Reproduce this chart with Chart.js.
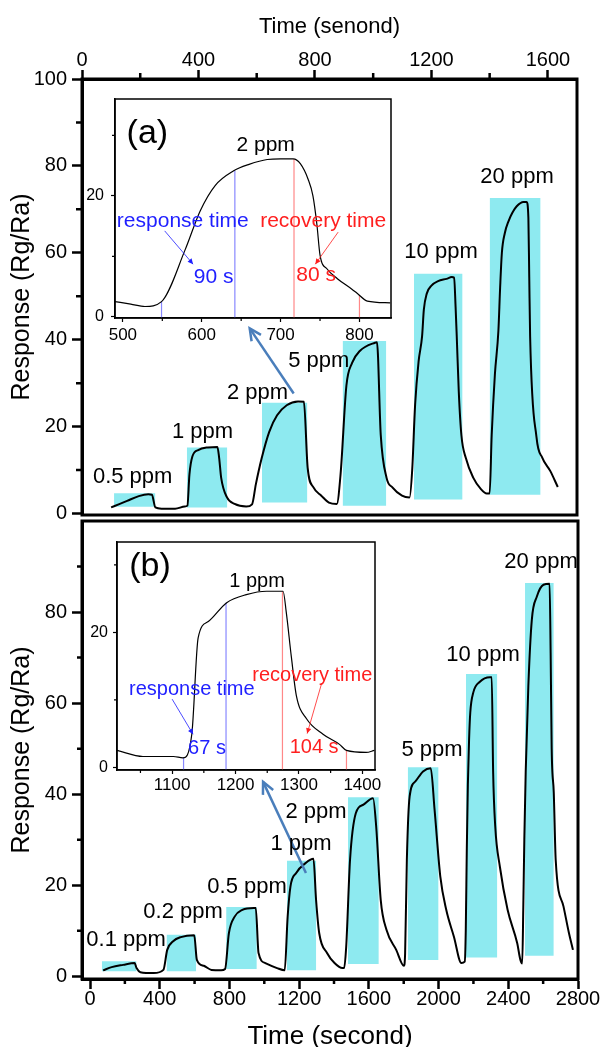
<!DOCTYPE html>
<html>
<head>
<meta charset="utf-8">
<title>Response vs time</title>
<script src="https://cdn.jsdelivr.net/npm/chart.js@4.4.1/dist/chart.umd.min.js"></script>
<style>
  html, body { margin: 0; padding: 0; background: #fff; overflow: hidden; }
  #wrap { position: relative; width: 603px; height: 1047px; }
  canvas { position: absolute; }
  #topChart { left: 0; top: 0; }
  #bottomChart { left: 0; top: 500px; }
  #insetA { left: 75px; top: 84px; }
  #insetB { left: 75px; top: 529px; }
</style>
</head>
<body>
<div id="wrap">
  <canvas id="topChart" width="603" height="530"></canvas>
  <canvas id="bottomChart" width="603" height="547"></canvas>
  <canvas id="insetA" width="330" height="266"></canvas>
  <canvas id="insetB" width="315" height="275"></canvas>
</div>
<script>
// ---- panel (a): response curve
const topTime = [100,130,155,195,228,240,252,273,320,353,362,369,379,399,432,465,471,478,498,524,564,584,597,617,643,670,703,742,762,775,795,822,848,875,888,908,928,954,1006,1013,1026,1046,1066,1099,1125,1134,1144,1156,1168,1174,1184,1201,1223,1252,1270,1278,1283,1287,1294,1303,1318,1344,1370,1390,1400,1407,1418,1430,1436,1442,1452,1465,1478,1493,1516,1527,1533,1536,1539,1561,1581,1608,1634]
const topResp = [1.4,2.2,2.9,4.0,4.4,4.3,1.4,1.1,1.1,1.6,1.8,9.0,13.1,14.6,15.2,15.3,12.8,8.2,3.7,2.2,1.6,2.1,6.7,12.7,18.8,22.6,24.9,25.8,25.7,10.5,6.0,4.1,2.5,2.2,9.0,29.4,34.7,37.4,39.3,39.4,18.1,8.2,6.0,4.1,3.7,10,25,35,40.8,46.9,50.6,52.5,53.5,54.0,54.4,54.3,47.6,40.8,28,18,12.8,8.2,5.6,4.6,4.6,18,32,42,52,60,64.5,67.3,69.2,70.7,71.7,71.7,68.1,54.4,40.8,17.5,12.8,9.8,6.1]

// gas-on windows (cyan boxes)
const topBoxStart = [110, 360, 618, 895, 1140, 1400]
const topBoxEnd = [252, 499, 774, 1045, 1307, 1575]
const topBoxLow = [1.55, 1.4, 2.5, 1.8, 3.2, 4.3]
const topBoxHigh = [4.66, 15.2, 25.5, 39.7, 55.2, 72.6]
const topConc = ['0.5 ppm', '1 ppm', '2 ppm', '5 ppm', '10 ppm', '20 ppm']
const topLabelT = [174, 414, 603, 813, 1233, 1494]
const topLabelV = [8.3, 18.75, 27.8, 35.1, 60.1, 77.4]

const topXTicks = [0, 400, 800, 1200, 1600]
const topXMinor = [200, 600, 1000, 1400]
const topYTicks = [0, 20, 40, 60, 80, 100]
const topYMinor = [10, 30, 50, 70, 90]

// ---- panel (b): response curve
const botTime = [75,124,190,256,267,289,366,421,443,477,521,598,613,653,697,752,775,797,830,874,940,951,967,1006,1073,1117,1134,1150,1183,1238,1282,1297,1315,1360,1403,1448,1458,1470,1492,1525,1569,1624,1642,1668,1701,1757,1801,1808,1818,1834,1867,1911,1955,1977,2010,2044,2088,2131,2150,2156,2162,2168,2175,2182,2199,2237,2295,2305,2313,2325,2352,2396,2451,2470,2480,2486,2492,2500,2515,2535,2564,2602,2637,2643,2649,2661,2672,2717,2748,2771]
const botResp = [1.3,2.0,2.5,2.9,1.8,0.9,0.7,1.4,5.8,7.7,8.6,9.0,3.6,2.3,1.4,1.3,1.6,9.5,13.1,14.6,15.0,15.0,5.1,2.9,1.8,1.3,13.1,19.7,22.7,24.9,25.8,16.8,9.5,5.1,2.9,1.8,1.8,6.5,25.6,35.8,37.7,39.1,32.9,16.8,10.2,5.8,2.3,5,25.6,39.5,42.8,45.0,45.7,36.6,21.9,14.6,8.7,2.9,3.2,10,28,42,52,58,62.3,64.7,65.7,65.7,45,33,24,14.6,7.3,3.5,2.8,15,30,45,63.7,78.3,83.4,86.0,86.2,71,50,40.3,25.6,15.3,9.5,5.8]

const botBoxStart = [68, 439, 781, 1130, 1480, 1823, 2157, 2496]
const botBoxEnd = [267, 609, 957, 1298, 1657, 2000, 2337, 2661]
const botBoxLow = [1.1, 1.1, 1.6, 1.3, 2.7, 3.6, 4.1, 4.5]
const botBoxHigh = [3.3, 9.1, 15.2, 25.4, 39.3, 45.9, 66.4, 86.4]
const botConc = ['0.1 ppm', '0.2 ppm', '0.5 ppm', '1 ppm', '2 ppm', '5 ppm', '10 ppm', '20 ppm']
const botLabelT = [207, 534, 901, 1211, 1297, 1962, 2255, 2588]
const botLabelV = [8.0, 14.2, 19.7, 29.1, 36.1, 49.7, 70.6, 91.0]

const botXTicks = [0, 400, 800, 1200, 1600, 2000, 2400, 2800]
const botXMinor = [200, 600, 1000, 1400, 1800, 2200, 2600]
const botYTicks = [0, 20, 40, 60, 80]
const botYMinor = [10, 30, 50, 70, 90]

// ---- insets: zoom on one cycle
const insetATime = [490,510,528,549,579,598,617,640,660,683,700,716,725,735,741,746,750,759,772,790,797,810,839]
const insetAResp = [2.5,2.1,1.7,2.5,11.1,17.5,21.7,24.1,25.2,26.0,26.1,26.1,25.3,22.7,20.0,15.3,10.2,7.9,6.3,4.6,3.9,2.6,2.3]
const insetAMarkT = [549, 642, 717, 800]
const insetAMarkV = [2.5, 24.1, 26.1, 3.6]
const insetAXTicks = [500, 600, 700, 800]
const insetAXMinor = [550, 650, 750]

const insetBTime = [1013,1054,1102,1117,1131,1141,1157,1186,1217,1249,1275,1280,1288,1296,1312,1338,1364,1375,1406,1419]
const insetBResp = [2.5,1.6,1.6,1.4,4.9,19.2,21.6,24.4,25.6,26.1,26.1,23.0,16.4,10.6,7.2,4.9,3.4,2.5,2.2,2.5]
const insetBMarkT = [1118, 1185, 1274, 1375]
const insetBMarkV = [1.4, 24.4, 26.1, 2.5]
const insetBXTicks = [1100, 1200, 1300, 1400]
const insetBXMinor = [1050, 1150, 1250, 1350]

const insetYTicks = [0, 20]
const insetYMinor = [10, 30]

const FONT = "'Liberation Sans', Arial, sans-serif"
const CYAN = '#8eeaf0'
const BLUE = '#1f1fff'
const RED = '#ff1f1f'
const ARROW = '#4a7ebb'

Chart.defaults.color = '#000'
Chart.defaults.font.family = FONT

// helpers
function points(xs, ys) {
    return xs.map((x, i) => ({ x: x, y: ys[i] }))
}

function curveDataset(xs, ys, width) {
    return {
        data: points(xs, ys),
        borderColor: '#000',
        borderWidth: width,
        pointRadius: 0,
        fill: false,
        cubicInterpolationMode: 'monotone',
        order: 0
    }
}

// each box is a flat line at the top value filled down to the low value
function boxDatasets(start, end, low, high) {
    return start.map((s, i) => ({
        data: [{ x: s, y: high[i] }, { x: end[i], y: high[i] }],
        fill: { value: low[i] },
        backgroundColor: CYAN,
        borderColor: 'rgba(0,0,0,0)',
        borderWidth: 0,
        pointRadius: 0,
        order: 1
    }))
}

function axis(cfg) {
    return {
        type: 'linear',
        position: cfg.position,
        min: cfg.min,
        max: cfg.max,
        afterBuildTicks: (s) => { s.ticks = cfg.ticks.map(v => ({ value: v })) },
        afterFit: (s) => {
            if (cfg.position === 'left') s.width = cfg.size
            else s.height = cfg.size
        },
        ticks: {
            autoSkip: false,
            maxRotation: 0,
            padding: cfg.pad,
            color: '#000',
            font: { family: FONT, size: cfg.font, lineHeight: 1 },
            callback: (v) => String(v)
        },
        grid: {
            drawOnChartArea: false,
            drawTicks: true,
            tickLength: cfg.tick,
            tickWidth: cfg.tickWidth,
            tickColor: '#000'
        },
        border: { display: true, color: '#000', width: cfg.border },
        title: cfg.title ? {
            display: true,
            text: cfg.title,
            color: '#000',
            font: { family: FONT, size: cfg.titleSize, lineHeight: cfg.titleLH || 1.2 },
            padding: cfg.titlePad
        } : { display: false }
    }
}

function drawArrow(ctx, x0, y0, x1, y1, color, width, head, filled) {
    const ang = Math.atan2(y1 - y0, x1 - x0)
    ctx.strokeStyle = color
    ctx.fillStyle = color
    ctx.lineWidth = width
    ctx.beginPath()
    ctx.moveTo(x0, y0)
    ctx.lineTo(x1, y1)
    ctx.stroke()
    ctx.beginPath()
    ctx.moveTo(x1 - head * Math.cos(ang - 0.45), y1 - head * Math.sin(ang - 0.45))
    ctx.lineTo(x1, y1)
    ctx.lineTo(x1 - head * Math.cos(ang + 0.45), y1 - head * Math.sin(ang + 0.45))
    if (filled) {
        ctx.closePath()
        ctx.fill()
    } else {
        ctx.stroke()
    }
}

// closed frame round the plot area, optional white fill
function framePlugin(width, whiteFill) {
    return {
        id: 'frame',
        beforeDraw(chart) {
            if (!whiteFill) return
            const { ctx, chartArea } = chart
            ctx.save()
            ctx.fillStyle = '#fff'
            ctx.fillRect(chartArea.left, chartArea.top, chartArea.width, chartArea.height)
            ctx.restore()
        },
        afterDraw(chart) {
            const { ctx, chartArea } = chart
            ctx.save()
            ctx.strokeStyle = '#000'
            ctx.lineWidth = width
            ctx.strokeRect(chartArea.left, chartArea.top, chartArea.width, chartArea.height)
            ctx.restore()
        }
    }
}

// short unlabeled ticks between the labeled ones
function minorTickPlugin(xVals, yVals, len, width) {
    return {
        id: 'minorTicks',
        afterDraw(chart) {
            const { ctx, chartArea, scales } = chart
            const onTop = scales.x.position === 'top'
            ctx.save()
            ctx.strokeStyle = '#000'
            ctx.lineWidth = width
            ctx.beginPath()
            for (const v of xVals) {
                const px = scales.x.getPixelForValue(v)
                const edge = onTop ? chartArea.top : chartArea.bottom
                ctx.moveTo(px, edge)
                ctx.lineTo(px, edge + (onTop ? -len : len))
            }
            for (const v of yVals) {
                const py = scales.y.getPixelForValue(v)
                ctx.moveTo(chartArea.left, py)
                ctx.lineTo(chartArea.left - len, py)
            }
            ctx.stroke()
            ctx.restore()
        }
    }
}

// texts, pointer arrows and marker lines, placed in data units
function notesPlugin(notes) {
    return {
        id: 'notes',
        beforeDatasetsDraw(chart) {
            const { ctx, chartArea, scales } = chart
            ctx.save()
            for (const m of notes.markers || []) {
                const px = scales.x.getPixelForValue(m.t)
                ctx.strokeStyle = m.color
                ctx.lineWidth = 1.2
                ctx.beginPath()
                ctx.moveTo(px, chartArea.bottom)
                ctx.lineTo(px, scales.y.getPixelForValue(m.v))
                ctx.stroke()
            }
            ctx.restore()
        },
        afterDatasetsDraw(chart) {
            const { ctx, scales } = chart
            const X = v => scales.x.getPixelForValue(v)
            const Y = v => scales.y.getPixelForValue(v)
            ctx.save()
            for (const a of notes.arrows || []) {
                drawArrow(ctx, X(a.t0), Y(a.v0), X(a.t1), Y(a.v1), a.color, a.width, a.head, a.filled)
            }
            ctx.textAlign = 'center'
            ctx.textBaseline = 'middle'
            for (const tx of notes.texts || []) {
                ctx.font = tx.size + 'px ' + FONT
                ctx.fillStyle = tx.color
                ctx.fillText(tx.text, X(tx.t), Y(tx.v))
            }
            ctx.restore()
        }
    }
}

function concTexts(names, ts, vs) {
    return names.map((n, i) => ({ text: n, t: ts[i], v: vs[i], size: 22, color: '#000' }))
}

const baseOptions = {
    responsive: false,
    animation: false,
    devicePixelRatio: 1,
    events: []
}

// ---- top panel (a)
new Chart(document.getElementById('topChart'), {
    type: 'line',
    data: {
        datasets: [curveDataset(topTime, topResp, 2)].concat(boxDatasets(topBoxStart, topBoxEnd, topBoxLow, topBoxHigh))
    },
    options: Object.assign({}, baseOptions, {
        layout: { padding: { top: 0, right: 26, bottom: 9, left: 0 } },
        plugins: { legend: { display: false }, tooltip: { enabled: false } },
        scales: {
            x: axis({ position: 'top', min: 0, max: 1700, ticks: topXTicks, size: 79, pad: 0, font: 20,
                tick: 9, tickWidth: 2.5, border: 3, title: 'Time (senond)', titleSize: 22, titlePad: { top: 14 } }),
            y: axis({ position: 'left', min: -0.35, max: 100, ticks: topYTicks, size: 82, pad: 5, font: 20,
                tick: 10, tickWidth: 2.5, border: 3, title: 'Response (Rg/Ra)', titleSize: 25, titlePad: { top: 7 } })
        }
    }),
    plugins: [
        framePlugin(3, false),
        minorTickPlugin(topXMinor, topYMinor, 6, 2.5),
        notesPlugin({
            texts: concTexts(topConc, topLabelT, topLabelV),
            arrows: [{ t0: 727, v0: 27.6, t1: 576, v1: 42.6, color: ARROW, width: 2.5, head: 13, filled: false }]
        })
    ]
})

// ---- bottom panel (b)
new Chart(document.getElementById('bottomChart'), {
    type: 'line',
    data: {
        datasets: [curveDataset(botTime, botResp, 2)].concat(boxDatasets(botBoxStart, botBoxEnd, botBoxLow, botBoxHigh))
    },
    options: Object.assign({}, baseOptions, {
        layout: { padding: { top: 21, right: 25, bottom: 0, left: 0 } },
        plugins: { legend: { display: false }, tooltip: { enabled: false } },
        scales: {
            x: axis({ position: 'bottom', min: -46, max: 2800, ticks: botXTicks, size: 68, pad: 0, font: 20,
                tick: 10, tickWidth: 2.5, border: 3, title: 'Time (second)', titleSize: 26, titleLH: 0.8, titlePad: { bottom: 0 } }),
            y: axis({ position: 'left', min: -0.6, max: 100, ticks: botYTicks, size: 82, pad: 5, font: 20,
                tick: 10, tickWidth: 2.5, border: 3, title: 'Response (Rg/Ra)', titleSize: 25, titlePad: { top: 7 } })
        }
    }),
    plugins: [
        framePlugin(3, false),
        minorTickPlugin(botXMinor, botYMinor, 5, 2.5),
        notesPlugin({
            texts: concTexts(botConc, botLabelT, botLabelV),
            arrows: [{ t0: 1239, v0: 22.7, t1: 993, v1: 42.7, color: ARROW, width: 2.5, head: 13, filled: false }]
        })
    ]
})

// ---- inset (a)
new Chart(document.getElementById('insetA'), {
    type: 'line',
    data: { datasets: [curveDataset(insetATime, insetAResp, 1.2)] },
    options: Object.assign({}, baseOptions, {
        layout: { padding: { top: 5, right: 14, bottom: 0, left: 0 } },
        plugins: { legend: { display: false }, tooltip: { enabled: false } },
        scales: {
            x: axis({ position: 'bottom', min: 490, max: 840, ticks: insetAXTicks, size: 32, pad: 5, font: 17,
                tick: 4, tickWidth: 1.2, border: 1.5 }),
            y: axis({ position: 'left', min: -0.2, max: 36, ticks: insetYTicks, size: 40, pad: 7, font: 16,
                tick: 4, tickWidth: 1.2, border: 1.5 })
        }
    }),
    plugins: [
        framePlugin(1.5, true),
        minorTickPlugin(insetAXMinor, insetYMinor, 3, 1.2),
        notesPlugin({
            markers: insetAMarkT.map((t, i) => ({ t: t, v: insetAMarkV[i], color: i < 2 ? '#8888ff' : '#ff8888' })),
            arrows: [
                { t0: 553, v0: 14.2, t1: 589, v1: 8.7, color: BLUE, width: 0.8, head: 6, filled: true },
                { t0: 773, v0: 14.0, t1: 744, v1: 8.7, color: RED, width: 0.8, head: 6, filled: true }
            ],
            texts: [
                { text: '(a)', t: 531, v: 30.3, size: 34, color: '#000' },
                { text: '2 ppm', t: 681, v: 28.4, size: 21, color: '#000' },
                { text: 'response time', t: 576, v: 15.8, size: 21, color: BLUE },
                { text: '90 s', t: 615, v: 6.6, size: 21, color: BLUE },
                { text: 'recovery time', t: 754, v: 15.8, size: 21, color: RED },
                { text: '80 s', t: 745, v: 6.9, size: 21, color: RED }
            ]
        })
    ]
})

// ---- inset (b)
new Chart(document.getElementById('insetB'), {
    type: 'line',
    data: { datasets: [curveDataset(insetBTime, insetBResp, 1.2)] },
    options: Object.assign({}, baseOptions, {
        layout: { padding: { top: 5, right: 15, bottom: 0, left: 0 } },
        plugins: { legend: { display: false }, tooltip: { enabled: false } },
        scales: {
            x: axis({ position: 'bottom', min: 1013, max: 1420, ticks: insetBXTicks, size: 34, pad: 3, font: 17,
                tick: 4, tickWidth: 1.2, border: 1.5 }),
            y: axis({ position: 'left', min: -0.4, max: 33.4, ticks: insetYTicks, size: 42, pad: 5, font: 16,
                tick: 4, tickWidth: 1.2, border: 1.5 })
        }
    }),
    plugins: [
        framePlugin(1.5, true),
        minorTickPlugin(insetBXMinor, insetYMinor, 3, 1.2),
        notesPlugin({
            markers: insetBMarkT.map((t, i) => ({ t: t, v: insetBMarkV[i], color: i < 2 ? '#8888ff' : '#ff8888' })),
            arrows: [
                { t0: 1100, v0: 10.1, t1: 1133, v1: 4.9, color: BLUE, width: 0.8, head: 6, filled: true },
                { t0: 1336, v0: 12.5, t1: 1313, v1: 5.0, color: RED, width: 0.8, head: 6, filled: true }
            ],
            texts: [
                { text: '(b)', t: 1065, v: 29.7, size: 34, color: '#000' },
                { text: '1 ppm', t: 1234, v: 27.5, size: 20, color: '#000' },
                { text: 'response time', t: 1131, v: 11.5, size: 20, color: BLUE },
                { text: '67 s', t: 1155, v: 2.75, size: 20, color: BLUE },
                { text: 'recovery time', t: 1321, v: 13.6, size: 20, color: RED },
                { text: '104 s', t: 1324, v: 2.9, size: 20, color: RED }
            ]
        })
    ]
})
</script>
</body>
</html>
